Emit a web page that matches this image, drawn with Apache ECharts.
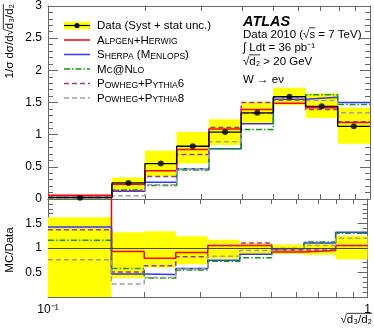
<!DOCTYPE html>
<html>
<head>
<meta charset="utf-8">
<script src="https://cdn.jsdelivr.net/npm/echarts@6/dist/echarts.min.js"></script>
<style>
html, body { margin: 0; padding: 0; background: #fff; }
#main { width: 374px; height: 328px; }
</style>
</head>
<body>
<div id="main"></div>
<script>
// bin edges of sqrt(d3/d2), log spaced
const binEdges = [0.1, 0.158, 0.2, 0.251, 0.316, 0.398, 0.501, 0.631, 0.794, 1.0];

// top panel: 1/sigma dsigma/d sqrt(d3/d2)
const dataVal = [0.02, 0.25, 0.55, 0.82, 1.04, 1.34, 1.59, 1.44, 1.13];
const bandHi = [0.035, 0.336, 0.75, 1.04, 1.24, 1.51, 1.73, 1.64, 1.42];
const bandLo = [0.005, 0.12, 0.35, 0.55, 0.84, 1.17, 1.46, 1.26, 0.86];
const alpgen = [0.06, 0.23, 0.44, 0.77, 1.09, 1.39, 1.49, 1.42, 1.19];
const sherpa = [0.028, 0.12, 0.26, 0.47, 0.78, 1.17, 1.55, 1.58, 1.50];
const mcnlo = [0.023, 0.14, 0.21, 0.45, 0.78, 1.08, 1.58, 1.62, 1.47];
const pwg6 = [0.027, 0.13, 0.35, 0.69, 1.11, 1.50, 1.54, 1.39, 1.20];
const pwg8 = [0.015, 0.05, 0.22, 0.47, 0.89, 1.33, 1.57, 1.53, 1.34];

// bottom panel: MC/Data
const ratioBandHi = [1.63, 1.32, 1.34, 1.24, 1.17, 1.10, 1.07, 1.09, 1.25];
const ratioBandLo = [0, 0.39, 0.60, 0.67, 0.78, 0.88, 0.88, 0.86, 0.77];
const alpgenRatio = [2.9, 0.93, 0.79, 0.91, 1.05, 1.05, 0.92, 0.95, 1.05];
const sherpaRatio = [1.43, 0.47, 0.46, 0.58, 0.75, 0.87, 0.97, 1.10, 1.32];
const mcnloRatio = [1.16, 0.58, 0.39, 0.55, 0.73, 0.80, 0.99, 1.12, 1.30];
const pwg6Ratio = [1.37, 0.51, 0.64, 0.82, 1.05, 1.10, 0.96, 0.96, 1.05];
const pwg8Ratio = [0.76, 0.265, 0.40, 0.57, 0.83, 0.95, 0.98, 1.05, 1.20];

// axis ticks
const xTicks = [0.1, 0.2, 0.3, 0.4, 0.5, 0.6, 0.7, 0.8, 0.9, 1];
const xLabels = [0.1, 1];

const legendNames = ['Data (Syst + stat unc.)', 'Alpgen+Herwig', 'Sherpa (Menlops)', 'Mc@Nlo', 'Powheg+Pythia6', 'Powheg+Pythia8'];

const FONT = '"Liberation Sans", Arial, Helvetica, sans-serif';
const AXIS_COLOR = '#666';

const colors = {
    band: '#ffff00',
    alpgen: '#ff0000',
    sherpa: '#3434ff',
    mcnlo: '#119911',
    pwg6: '#a3339f',
    pwg8: '#a0a0a0'
};
const dashes = {
    alpgen: 'solid',
    sherpa: 'solid',
    mcnlo: [6, 2, 1.5, 2],
    pwg6: [5, 3],
    pwg8: [5, 3]
};

const measureCtx = document.createElement('canvas').getContext('2d');
function textWidth(s, size, weight) {
    measureCtx.font = (weight || 'normal') + ' ' + size + 'px ' + FONT;
    return measureCtx.measureText(s).width;
}

function stepPts(vals) {
    let pts = [];
    vals.forEach(function (v, i) {
        pts.push([binEdges[i], v]);
        pts.push([binEdges[i + 1], v]);
    });
    return pts;
}

function bandData(lo, hi) {
    return lo.map(function (v, i) {
        return [binEdges[i], binEdges[i + 1], v, hi[i]];
    });
}

function renderBand(params, api) {
    const p1 = api.coord([api.value(0), api.value(3)]);
    const p2 = api.coord([api.value(1), api.value(2)]);
    const cs = params.coordSys;
    const shape = echarts.graphic.clipRectByRect(
        { x: p1[0], y: p1[1], width: p2[0] - p1[0], height: p2[1] - p1[1] },
        { x: cs.x, y: cs.y, width: cs.width, height: cs.height }
    );
    return shape && { type: 'rect', shape: shape, style: { fill: colors.band } };
}

function stepSeries(name, vals, key, xi, yi) {
    return {
        name: name,
        type: 'line',
        xAxisIndex: xi,
        yAxisIndex: yi,
        data: stepPts(vals),
        showSymbol: false,
        symbol: 'none',
        silent: true,
        clip: true,
        lineStyle: { color: colors[key], width: 1.5, type: dashes[key] },
        z: 3
    };
}

// "Alpgen" -> A big, LPGEN small caps
function smallCaps(str) {
    let out = '', cur = '', curSmall = null;
    for (const ch of str) {
        const small = ch >= 'a' && ch <= 'z';
        if (curSmall !== null && small !== curSmall) {
            out += '{' + (curSmall ? 's' : 'b') + '|' + cur + '}';
            cur = '';
        }
        cur += small ? ch.toUpperCase() : ch;
        curSmall = small;
    }
    if (cur) out += '{' + (curSmall ? 's' : 'b') + '|' + cur + '}';
    return out;
}

// text with an overline over a part (for the square roots)
function overlined(x, y, pre, over, post, size, align, rotation) {
    const full = pre + over + post;
    const wFull = textWidth(full, size);
    const start = align === 'right' ? -wFull : (align === 'center' ? -wFull / 2 : 0);
    const x1 = start + textWidth(pre, size) - 0.5;
    const x2 = start + textWidth(pre + over, size);
    const ly = -size * 0.58;
    return {
        type: 'group',
        x: x, y: y,
        rotation: rotation || 0,
        children: [
            { type: 'text', style: { text: full, x: 0, y: 0, fill: '#000', font: size + 'px ' + FONT,
                textAlign: align, align: align, textVerticalAlign: 'middle', verticalAlign: 'middle' } },
            { type: 'line', shape: { x1: x1, y1: ly, x2: x2, y2: ly }, style: { stroke: '#000', lineWidth: 0.8 } }
        ]
    };
}

function plainText(x, y, s, size, extra, rotation) {
    const align = (extra && extra.textAlign) || 'left';
    return {
        type: 'group',
        x: x, y: y,
        rotation: rotation || 0,
        children: [{
            type: 'text',
            style: Object.assign({ text: s, x: 0, y: 0, fill: '#000', font: size + 'px ' + FONT,
                textAlign: align, align: align, textVerticalAlign: 'middle', verticalAlign: 'middle' }, extra || {})
        }]
    };
}

// legend drawn by hand (ROOT style)
function buildLegend() {
    const els = [];
    const rowY = [25.5, 40, 54.5, 69, 83.5, 98];
    const sx1 = 64, sx2 = 90, tx = 97;
    const keys = [null, 'alpgen', 'sherpa', 'mcnlo', 'pwg6', 'pwg8'];
    rowY.forEach(function (y, i) {
        if (i === 0) {
            els.push({ type: 'rect', shape: { x: sx1, y: y - 3.8, width: sx2 - sx1, height: 7.6 }, style: { fill: colors.band } });
            els.push({ type: 'line', shape: { x1: sx1, y1: y, x2: sx2, y2: y }, style: { stroke: '#000', lineWidth: 1.2 } });
            els.push({ type: 'circle', shape: { cx: (sx1 + sx2) / 2, cy: y, r: 2.6 }, style: { fill: '#000' } });
            els.push(plainText(tx, y, legendNames[0], 11.5));
        } else {
            const k = keys[i];
            els.push({ type: 'line', shape: { x1: sx1, y1: y, x2: sx2, y2: y },
                style: { stroke: colors[k], lineWidth: 1.5, lineDash: dashes[k] === 'solid' ? null : dashes[k] } });
            els.push({
                type: 'text',
                style: {
                    text: smallCaps(legendNames[i]), x: tx, y: y + 0.5, fill: '#000',
                    textAlign: 'left', align: 'left', textVerticalAlign: 'middle', verticalAlign: 'middle',
                    rich: {
                        b: { fontSize: 11.5, fontFamily: FONT, verticalAlign: 'bottom' },
                        s: { fontSize: 8.6, fontFamily: FONT, verticalAlign: 'bottom' }
                    }
                }
            });
        }
    });
    return els;
}

function xAxisCfg(grid, pos, labels) {
    return {
        type: 'log', logBase: 10, gridIndex: grid, position: pos, min: 0.1, max: 1,
        axisLine: { show: true, onZero: false, lineStyle: { color: AXIS_COLOR, width: 1 } },
        axisTick: { show: true, inside: true, length: 5, customValues: xTicks, lineStyle: { color: AXIS_COLOR } },
        axisLabel: labels ? {
            show: true, customValues: xLabels, margin: 7, fontSize: 12, fontFamily: FONT, color: '#000',
            formatter: function (v) { return v < 0.5 ? '10\u207B\u00B9' : '1'; }
        } : { show: false },
        splitLine: { show: false }
    };
}

function yAxisCfg(grid, pos, max, labels, hideEnds) {
    return {
        type: 'value', gridIndex: grid, position: pos, min: 0, max: max, interval: 0.5,
        axisLine: { show: true, onZero: false, lineStyle: { color: AXIS_COLOR, width: 1 } },
        axisTick: { show: true, inside: true, length: 10, lineStyle: { color: AXIS_COLOR } },
        minorTick: { show: true, splitNumber: 5, length: 5, lineStyle: { color: AXIS_COLOR } },
        axisLabel: labels ? {
            show: true, margin: 6, fontSize: 12, fontFamily: FONT, color: '#000',
            showMinLabel: !hideEnds, showMaxLabel: !hideEnds
        } : { show: false },
        splitLine: { show: false },
        minorSplitLine: { show: false }
    };
}

const chart = echarts.init(document.getElementById('main'), null, { renderer: 'canvas' });

const dotData = dataVal.map(function (v, i) {
    return [Math.sqrt(binEdges[i] * binEdges[i + 1]), v];
});

const option = {
    animation: false,
    backgroundColor: '#fff',
    grid: [
        { left: 48, right: 4, top: 5, height: 194 },
        { left: 48, right: 4, top: 199, height: 98 }
    ],
    xAxis: [
        xAxisCfg(0, 'bottom', false),
        xAxisCfg(0, 'top', false),
        xAxisCfg(1, 'bottom', true),
        xAxisCfg(1, 'top', false)
    ],
    yAxis: [
        yAxisCfg(0, 'left', 3, true, false),
        yAxisCfg(0, 'right', 3, false, false),
        yAxisCfg(1, 'left', 2, true, true),
        yAxisCfg(1, 'right', 2, false, false)
    ],
    series: [
        {
            type: 'custom', xAxisIndex: 0, yAxisIndex: 0, silent: true, z: 1,
            data: bandData(bandLo, bandHi), encode: { x: [0, 1], y: [2, 3] }, renderItem: renderBand
        },
        stepSeries('Alpgen', alpgen, 'alpgen', 0, 0),
        stepSeries('Sherpa', sherpa, 'sherpa', 0, 0),
        stepSeries('MC@NLO', mcnlo, 'mcnlo', 0, 0),
        stepSeries('Powheg+Pythia6', pwg6, 'pwg6', 0, 0),
        stepSeries('Powheg+Pythia8', pwg8, 'pwg8', 0, 0),
        {
            name: 'Data', type: 'line', xAxisIndex: 0, yAxisIndex: 0, data: stepPts(dataVal),
            showSymbol: false, symbol: 'none', silent: true, z: 4,
            lineStyle: { color: '#000', width: 1.3 }
        },
        {
            name: 'Data points', type: 'scatter', xAxisIndex: 0, yAxisIndex: 0, data: dotData,
            symbol: 'circle', symbolSize: 6, silent: true, z: 5,
            itemStyle: { color: '#000' }
        },
        {
            type: 'custom', xAxisIndex: 2, yAxisIndex: 2, silent: true, z: 1,
            data: bandData(ratioBandLo, ratioBandHi), encode: { x: [0, 1], y: [2, 3] }, renderItem: renderBand,
            markLine: {
                silent: true, symbol: 'none', label: { show: false },
                lineStyle: { color: '#444', width: 1, type: 'solid' },
                data: [{ yAxis: 1 }]
            }
        },
        stepSeries('Alpgen ratio', alpgenRatio, 'alpgen', 2, 2),
        stepSeries('Sherpa ratio', sherpaRatio, 'sherpa', 2, 2),
        stepSeries('MC@NLO ratio', mcnloRatio, 'mcnlo', 2, 2),
        stepSeries('Powheg+Pythia6 ratio', pwg6Ratio, 'pwg6', 2, 2),
        stepSeries('Powheg+Pythia8 ratio', pwg8Ratio, 'pwg8', 2, 2)
    ],
    graphic: [].concat(
        buildLegend(),
        [
            plainText(243, 22, 'ATLAS', 14.5, { font: 'italic bold 14.5px ' + FONT }),
            overlined(243, 34.5, 'Data 2010 (\u221A', 's', ' = 7 TeV)', 11.5, 'left'),
            plainText(243, 48, '\u222B Ldt = 36 pb\u207B\u00B9', 11.5),
            overlined(243, 61.5, '\u221A', 'd\u2082', ' > 20 GeV', 11.5, 'left'),
            plainText(243, 80, 'W \u2192 e\u03BD', 11.5),
            // axis titles
            overlined(10, 4, '1/\u03C3 d\u03C3/d\u221A', 'd\u2083/d\u2082', '', 11.5, 'right', Math.PI / 2),
            plainText(10, 250, 'MC/Data', 11.5, { textAlign: 'center' }, Math.PI / 2),
            overlined(372, 320, '\u221A', 'd\u2083/d\u2082', '', 11.5, 'right')
        ]
    )
};

chart.setOption(option);
</script>
</body>
</html>
